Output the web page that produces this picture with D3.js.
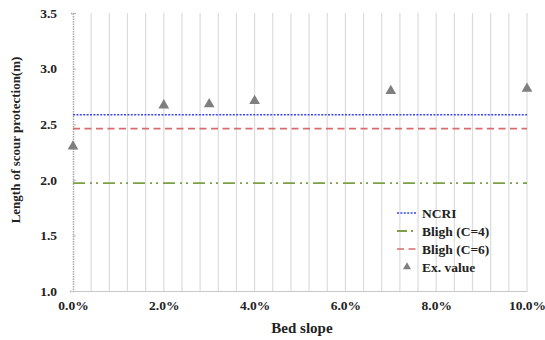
<!DOCTYPE html>
<html>
<head>
<meta charset="utf-8">
<script src="https://cdn.jsdelivr.net/npm/d3@7"></script>
<style>
  body { margin: 0; background: #fff; }
  text { font-family: "Liberation Serif", "Times New Roman", serif; font-weight: bold; }
</style>
</head>
<body>
<div class="chart"></div>
<script>
// data
const slopes = [0.0, 2.0, 3.0, 4.0, 7.0, 10.0];
const exValues = [2.30, 2.67, 2.68, 2.71, 2.80, 2.82];
const ncri = 2.585;
const blighC4 = 1.97;
const blighC6 = 2.46;
const xTicks = [0, 2, 4, 6, 8, 10];
const yTicks = [1.0, 1.5, 2.0, 2.5, 3.0, 3.5];
const legendNames = ['NCRI', 'Bligh (C=4)', 'Bligh (C=6)', 'Ex. value'];

const margin = ({top: 13, right: 18, bottom: 49, left: 73});
const W = 545, H = 340;
const width = W - margin.left - margin.right;
const height = H - margin.top - margin.bottom;

const svg = d3.select('.chart')
    .append('svg')
    .attr('width', W)
    .attr('height', H)
    .append('g')
    .attr('transform', `translate(${margin.left},${margin.top})`);

const xScale = d3.scaleLinear().domain([0, 10]).range([0, width]);
const yScale = d3.scaleLinear().domain([1.0, 3.5]).range([height, 0]);

// vertical grid every 0.4%
const gridVals = d3.range(1, 26).map(i => i * 0.4);
svg.append('g')
    .selectAll('line')
    .data(gridVals)
    .enter()
    .append('line')
    .attr('x1', d => xScale(d)).attr('x2', d => xScale(d))
    .attr('y1', 0).attr('y2', height)
    .attr('stroke', '#dcdcdc')
    .attr('stroke-width', 1.2);

// x axis
const xAxis = d3.axisBottom(xScale)
    .tickValues(xTicks)
    .tickSize(0)
    .tickPadding(9)
    .tickFormat(d => d.toFixed(1) + '%');
svg.append('g')
    .attr('class', 'axis x-axis')
    .attr('transform', `translate(0,${height})`)
    .call(xAxis)
    .call(g => g.select('.domain').attr('stroke', '#c8c8c8'))
    .call(g => g.selectAll('text').attr('font-size', 13.5).attr('fill', '#222')
        .attr('font-family', '"Liberation Serif", serif'));

// y axis
const yAxis = d3.axisLeft(yScale)
    .tickValues(yTicks)
    .tickSize(3)
    .tickPadding(13)
    .tickFormat(d3.format('.1f'));
svg.append('g')
    .attr('class', 'axis y-axis')
    .call(yAxis)
    .call(g => g.select('.domain').attr('stroke', '#a8a8a8').attr('stroke-dasharray', '1.5,1').attr('stroke-width', 1.5))
    .call(g => g.selectAll('.tick line').attr('stroke', '#bbb').attr('transform', 'translate(3,0)'))
    .call(g => g.selectAll('text').attr('font-size', 13.5).attr('fill', '#222')
        .attr('font-family', '"Liberation Serif", serif'));

// reference lines
const refLines = [
    {v: ncri, color: '#3a46f0', dash: '2,1.4', w: 1.6},
    {v: blighC4, color: '#7ba046', dash: '12,5,2,4,2,5', w: 1.8},
    {v: blighC6, color: '#d86b6b', dash: '7,4.5', w: 1.6}
];
svg.append('g')
    .selectAll('line')
    .data(refLines)
    .enter()
    .append('line')
    .attr('x1', xScale(0)).attr('x2', xScale(10))
    .attr('y1', d => yScale(d.v)).attr('y2', d => yScale(d.v))
    .attr('stroke', d => d.color)
    .attr('stroke-dasharray', d => d.dash)
    .attr('stroke-width', d => d.w);

// experimental points
const tri = d3.symbol().type(d3.symbolTriangle).size(50);
svg.append('g')
    .selectAll('path')
    .data(slopes.map((s, i) => ({s: s, v: exValues[i]})))
    .enter()
    .append('path')
    .attr('d', tri)
    .attr('transform', d => `translate(${xScale(d.s)},${yScale(d.v)})`)
    .attr('fill', '#7f7f7f');

// legend
const legend = svg.append('g')
    .attr('transform', `translate(${397 - margin.left},${213 - margin.top})`);
legendNames.forEach((name, i) => {
    const row = legend.append('g').attr('transform', `translate(0,${i * 18})`);
    if (i < 3) {
        row.append('line')
            .attr('x1', 0).attr('x2', 20)
            .attr('stroke', refLines[i].color)
            .attr('stroke-dasharray', i === 1 ? '10,4,2,4' : refLines[i].dash)
            .attr('stroke-width', refLines[i].w);
    } else {
        row.append('path')
            .attr('d', d3.symbol().type(d3.symbolTriangle).size(28))
            .attr('transform', 'translate(10,0)')
            .attr('fill', '#7f7f7f');
    }
    row.append('text')
        .attr('x', 25)
        .attr('dy', '0.35em')
        .attr('font-size', 13.5)
        .attr('fill', '#222')
        .text(name);
});

// axis titles
svg.append('text')
    .attr('x', width / 2 + 2)
    .attr('y', height + 42)
    .attr('text-anchor', 'middle')
    .attr('font-size', 15)
    .attr('fill', '#222')
    .text('Bed slope');

svg.append('text')
    .attr('transform', `translate(${-53},${127}) rotate(-90)`)
    .attr('text-anchor', 'middle')
    .attr('font-size', 13)
    .attr('fill', '#222')
    .text('Length of scour protection(m)');
</script>
</body>
</html>
